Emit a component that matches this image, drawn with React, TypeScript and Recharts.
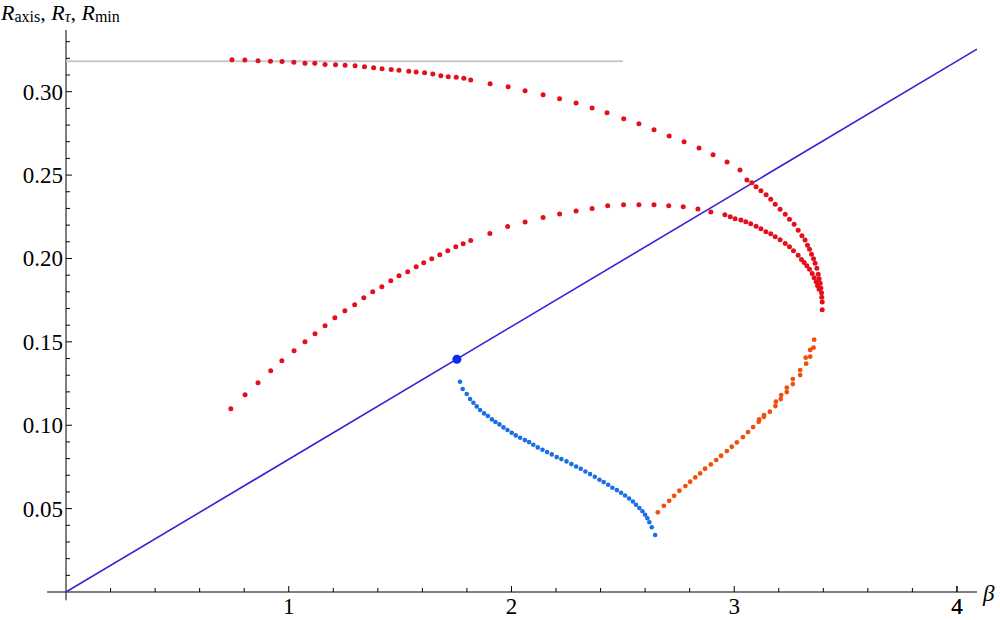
import { ScatterChart, Scatter, XAxis, YAxis, ReferenceLine } from "recharts";

// outer red branch (R_axis)
const outerBeta = [
  0.745, 0.803, 0.862, 0.918, 0.97, 1.023, 1.073, 1.117, 1.163, 1.21, 1.253, 1.298, 1.34, 1.381, 1.419, 1.46, 1.495,
  1.539, 1.572, 1.61, 1.647, 1.683, 1.716, 1.752, 1.786, 1.817, 1.904, 1.985, 2.061, 2.142, 2.216, 2.29, 2.362, 2.429,
  2.504, 2.572, 2.64, 2.708, 2.775, 2.842, 2.905, 2.968, 3.026, 3.057, 3.079, 3.098, 3.12, 3.143, 3.164, 3.184, 3.206,
  3.229, 3.248, 3.269, 3.287, 3.304, 3.318, 3.329, 3.338, 3.347, 3.356, 3.363, 3.371, 3.377, 3.381, 3.386, 3.389, 3.392,
  3.393, 3.395, 3.395,
];
const outerR = [
  0.3192, 0.319, 0.3186, 0.3183, 0.3181, 0.3177, 0.3171, 0.317, 0.3163, 0.3161, 0.3159, 0.3155, 0.3149, 0.3143, 0.3137,
  0.3133, 0.3129, 0.3123, 0.3118, 0.3113, 0.3106, 0.3096, 0.309, 0.3086, 0.308, 0.307, 0.3047, 0.3029, 0.3005, 0.2981,
  0.2957, 0.2932, 0.2903, 0.2874, 0.2838, 0.2808, 0.2772, 0.2734, 0.27, 0.2662, 0.2622, 0.2578, 0.253, 0.247, 0.2454,
  0.243, 0.2406, 0.2382, 0.2355, 0.2325, 0.2295, 0.2265, 0.2235, 0.2205, 0.2169, 0.2136, 0.211, 0.208, 0.2055, 0.2026,
  0.1998, 0.1971, 0.1942, 0.1906, 0.1878, 0.1851, 0.1823, 0.1794, 0.1767, 0.1739, 0.1692,
];

// inner red branch (R_tau)
const innerBeta = [
  0.74, 0.804, 0.862, 0.919, 0.969, 1.024, 1.073, 1.118, 1.163, 1.207, 1.252, 1.296, 1.337, 1.377, 1.418, 1.458, 1.495,
  1.534, 1.572, 1.606, 1.642, 1.678, 1.714, 1.75, 1.783, 1.817, 1.903, 1.983, 2.061, 2.142, 2.216, 2.29, 2.362, 2.432,
  2.503, 2.572, 2.64, 2.706, 2.771, 2.837, 2.895, 2.958, 2.982, 3.004, 3.03, 3.052, 3.074, 3.098, 3.12, 3.142, 3.164,
  3.184, 3.206, 3.229, 3.248, 3.266, 3.287, 3.302, 3.314, 3.326, 3.338, 3.35, 3.359, 3.368, 3.374, 3.381,
];
const innerR = [
  0.1099, 0.1183, 0.1255, 0.1327, 0.1387, 0.1447, 0.1501, 0.1549, 0.1597, 0.1645, 0.1687, 0.1723, 0.1765, 0.1801,
  0.1831, 0.1867, 0.1897, 0.1921, 0.1951, 0.1975, 0.1999, 0.2023, 0.2047, 0.2071, 0.2089, 0.2107, 0.2149, 0.2191,
  0.2218, 0.2245, 0.2266, 0.2284, 0.2299, 0.2316, 0.2322, 0.2322, 0.2322, 0.2316, 0.231, 0.2296, 0.2278, 0.2262, 0.225,
  0.2238, 0.223, 0.222, 0.2208, 0.2193, 0.2178, 0.216, 0.2148, 0.213, 0.2112, 0.209, 0.207, 0.2046, 0.202, 0.1994,
  0.1976, 0.1956, 0.1936, 0.191, 0.1884, 0.186, 0.1836, 0.1815,
];

// blue branch (R_min, falling)
const blueBeta = [
  1.769, 1.781, 1.799, 1.814, 1.829, 1.844, 1.859, 1.877, 1.894, 1.912, 1.928, 1.946, 1.964, 1.982, 2.001, 2.019, 2.039,
  2.06, 2.079, 2.098, 2.118, 2.139, 2.16, 2.181, 2.203, 2.224, 2.247, 2.269, 2.29, 2.311, 2.332, 2.353, 2.374, 2.395,
  2.414, 2.434, 2.453, 2.473, 2.492, 2.51, 2.528, 2.545, 2.559, 2.574, 2.588, 2.6, 2.61, 2.619, 2.63, 2.645,
];
const blueR = [
  0.1261, 0.1217, 0.1187, 0.1157, 0.1135, 0.1113, 0.1091, 0.1071, 0.1055, 0.1035, 0.1019, 0.1005, 0.0987, 0.0971,
  0.0955, 0.0939, 0.0925, 0.0911, 0.0899, 0.0883, 0.0867, 0.0853, 0.0839, 0.0825, 0.0809, 0.0797, 0.0783, 0.0767,
  0.0753, 0.0739, 0.0723, 0.0707, 0.0691, 0.0673, 0.0659, 0.0643, 0.0625, 0.0611, 0.0595, 0.0579, 0.0561, 0.0543,
  0.0523, 0.0504, 0.0484, 0.0463, 0.0442, 0.0418, 0.0388, 0.0342,
];

// orange branch (R_min, rising)
const orangeBeta = [
  2.657, 2.684, 2.708, 2.73, 2.754, 2.781, 2.802, 2.825, 2.847, 2.869, 2.895, 2.919, 2.941, 2.967, 2.989, 3.012, 3.039,
  3.062, 3.085, 3.11, 3.112, 3.133, 3.134, 3.16, 3.185, 3.187, 3.209, 3.211, 3.236, 3.236, 3.263, 3.263, 3.296, 3.296,
  3.321, 3.323, 3.341, 3.341, 3.356, 3.359,
];
const orangeR = [
  0.0478, 0.0517, 0.0547, 0.0577, 0.0607, 0.0635, 0.0661, 0.0687, 0.0711, 0.0739, 0.0765, 0.0791, 0.0817, 0.0845,
  0.0871, 0.0897, 0.0929, 0.0959, 0.0989, 0.1021, 0.1035, 0.1051, 0.1061, 0.1081, 0.1115, 0.1141, 0.1157, 0.1181,
  0.1199, 0.1225, 0.1247, 0.1277, 0.1301, 0.1331, 0.1405, 0.1369, 0.1411, 0.1451, 0.1465, 0.1513,
];

// R = beta / (4 pi) line, 1/pi limit, marked point
const lineBeta = [0, 4.09];
const lineR = [0, 0.3255];
const limitBeta = [0, 2.5];
const limitR = [0.3183, 0.3183];
const markBeta = [1.755];
const markR = [0.1396];

const xMinor = [0.2, 0.4, 0.6, 0.8, 1.2, 1.4, 1.6, 1.8, 2.2, 2.4, 2.6, 2.8, 3.2, 3.4, 3.6, 3.8, 4.0];
const xMajor = [1, 2, 3, 4];
const xLabels = ["1", "2", "3", "4"];
const yMinor = [
  0.01, 0.02, 0.03, 0.04, 0.06, 0.07, 0.08, 0.09, 0.11, 0.12, 0.13, 0.14, 0.16, 0.17, 0.18, 0.19, 0.21, 0.22, 0.23,
  0.24, 0.26, 0.27, 0.28, 0.29, 0.31, 0.32, 0.33,
];
const yMajor = [0.05, 0.1, 0.15, 0.2, 0.25, 0.3];
const yLabels = ["0.05", "0.10", "0.15", "0.20", "0.25", "0.30"];

const zip = (xs: number[], ys: number[]) => xs.map((x, i) => ({ x, y: ys[i] }));

const FONT = "'Liberation Serif', 'Times New Roman', serif";

const dot = (r: number, fill: string) => (p: any) => <circle cx={p.cx} cy={p.cy} r={r} fill={fill} />;
const noDot = () => <g />;

const XTick = ({ x, y, payload }: any) => {
  const i = xMajor.indexOf(payload.value);
  const major = i >= 0;
  return (
    <g>
      <line x1={x} y1={y} x2={x} y2={y - (major ? 6 : 4)} stroke="#000" strokeWidth={1} />
      {major && (
        <text x={x} y={y + 22} textAnchor="middle" fontFamily={FONT} fontSize={23} fill="#000">
          {xLabels[i]}
        </text>
      )}
    </g>
  );
};

const YTick = ({ x, y, payload }: any) => {
  const i = yMajor.findIndex((v) => Math.abs(v - payload.value) < 1e-9);
  const major = i >= 0;
  return (
    <g>
      <line x1={x} y1={y} x2={x + (major ? 6 : 4)} y2={y} stroke="#000" strokeWidth={1} />
      {major && (
        <text x={x - 3} y={y + 8} textAnchor="end" fontFamily={FONT} fontSize={23} fill="#000">
          {yLabels[i]}
        </text>
      )}
    </g>
  );
};

const YTitle = () => (
  <text x={1} y={20} fontFamily={FONT} fontSize={22} fill="#000">
    <tspan fontStyle="italic">R</tspan>
    <tspan fontSize={16} dy={2}>axis</tspan>
    <tspan dy={-2}>, </tspan>
    <tspan fontStyle="italic">R</tspan>
    <tspan fontSize={16} dy={2} fontStyle="italic">τ</tspan>
    <tspan dy={-2}>, </tspan>
    <tspan fontStyle="italic">R</tspan>
    <tspan fontSize={16} dy={2}>min</tspan>
  </text>
);

const XTitle = () => (
  <text x={983} y={601} fontFamily={FONT} fontSize={23} fontStyle="italic" fill="#000">
    β
  </text>
);

export default function App() {
  return (
    <div style={{ position: "absolute", left: 0, top: 0, width: 1000, height: 620, background: "#fff" }}>
      <ScatterChart width={1000} height={620} margin={{ top: 30, right: 23, bottom: 0, left: 0 }}>
        <XAxis
          type="number"
          dataKey="x"
          domain={[0, 4.09]}
          ticks={[...xMinor, ...xMajor].sort((a, b) => a - b)}
          interval={0}
          allowDataOverflow
          height={28}
          tickSize={0}
          tickMargin={0}
          tickLine={false}
          axisLine={{ stroke: "#000", strokeWidth: 1 }}
          tick={<XTick />}
          label={<XTitle />}
        />
        <YAxis
          type="number"
          dataKey="y"
          domain={[0, 0.337]}
          ticks={[...yMinor, ...yMajor].sort((a, b) => a - b)}
          interval={0}
          allowDataOverflow
          width={66}
          tickSize={0}
          tickMargin={0}
          tickLine={false}
          axisLine={{ stroke: "#000", strokeWidth: 1 }}
          tick={<YTick />}
          label={<YTitle />}
        />
        <ReferenceLine
          segment={[
            { x: -0.085, y: 0 },
            { x: 0, y: 0 },
          ]}
          stroke="#000"
          ifOverflow="visible"
        />
        <ReferenceLine
          segment={[
            { x: 0, y: -0.005 },
            { x: 0, y: 0 },
          ]}
          stroke="#000"
          ifOverflow="visible"
        />
        <Scatter
          data={zip(limitBeta, limitR)}
          line={{ stroke: "#c8c8cf", strokeWidth: 2 }}
          shape={noDot}
          isAnimationActive={false}
        />
        <Scatter
          data={zip(lineBeta, lineR)}
          line={{ stroke: "#3a1fd6", strokeWidth: 1.6 }}
          shape={noDot}
          isAnimationActive={false}
        />
        <Scatter data={zip(outerBeta, outerR)} shape={dot(2.5, "#e3101c")} isAnimationActive={false} />
        <Scatter data={zip(innerBeta, innerR)} shape={dot(2.5, "#e3101c")} isAnimationActive={false} />
        <Scatter data={zip(blueBeta, blueR)} shape={dot(2.3, "#1a6ee6")} isAnimationActive={false} />
        <Scatter data={zip(orangeBeta, orangeR)} shape={dot(2.4, "#f0500f")} isAnimationActive={false} />
        <Scatter data={zip(markBeta, markR)} shape={dot(4.5, "#0c2bf2")} isAnimationActive={false} />
      </ScatterChart>
    </div>
  );
}
